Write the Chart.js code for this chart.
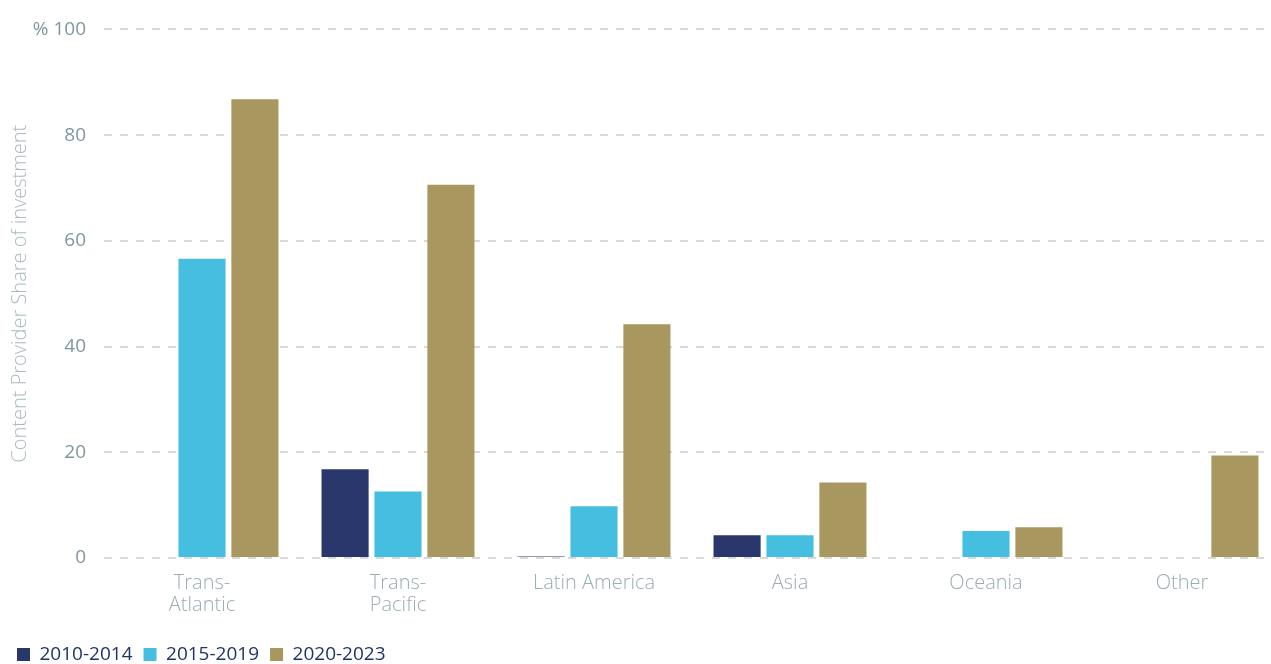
<!DOCTYPE html>
<html>
<head>
<meta charset="utf-8">
<script src="https://cdn.jsdelivr.net/npm/chart.js@4"></script>
<style>
    html, body { margin: 0; padding: 0; background: #fff; overflow: hidden; }
    #wrap { position: relative; width: 1280px; height: 674px; }
</style>
</head>
<body>
<div id="wrap"><canvas id="chart"></canvas></div>
<script>
    const regions = [['Trans-', 'Atlantic'], ['Trans-', 'Pacific'], 'Latin America', 'Asia', 'Oceania', 'Other'];
    const periods = ['2010-2014', '2015-2019', '2020-2023'];
    const share2010 = [null, 16.8, 0.3, 4.3, null, null];
    const share2015 = [56.6, 12.6, 9.8, 4.3, 5.1, null];
    const share2020 = [86.8, 70.6, 44.2, 14.3, 5.8, 19.4];
    const yTicks = [0, 20, 40, 60, 80, 100];

    const colors = ['#29376d', '#46bee0', '#a89860'];

    const ctx = document.getElementById('chart').getContext('2d');
    new Chart(ctx, {
        type: 'bar',
        data: {
            labels: regions,
            datasets: [share2010, share2015, share2020].map((d, i) => ({
                label: periods[i],
                data: d,
                backgroundColor: colors[i],
                borderWidth: 0,
                categoryPercentage: 0.81,
                barPercentage: 0.89
            }))
        },
        options: {
            responsive: true,
            maintainAspectRatio: false,
            animation: false,
            layout: { padding: { left: 6, right: 0, top: 13, bottom: 0 } },
            scales: {
                x: {
                    grid: { display: false },
                    border: { display: false },
                    afterFit: scale => { scale.height += 12; },
                    ticks: {
                        color: '#9aaeb3',
                        font: { family: 'Open Sans', size: 20, weight: 300, lineHeight: 1.1 },
                        padding: 6,
                        maxRotation: 0
                    }
                },
                y: {
                    min: 0,
                    max: 100,
                    afterBuildTicks: axis => { axis.ticks = yTicks.map(v => ({ value: v })); },
                    afterFit: scale => { scale.width = 98; },
                    grid: { color: '#d9d9d9', lineWidth: 2, drawTicks: false },
                    border: { display: false, dash: [8, 8] },
                    ticks: {
                        color: '#7f979d',
                        font: { family: 'Open Sans', size: 19 },
                        padding: 18,
                        callback: v => v === 100 ? '% 100' : v
                    },
                    title: {
                        display: true,
                        text: 'Content Provider Share of investment',
                        color: '#a8bcc0',
                        font: { family: 'Open Sans', size: 20, weight: 300 },
                        padding: { top: 2, bottom: 0 }
                    }
                }
            },
            plugins: {
                legend: {
                    position: 'bottom',
                    align: 'start',
                    labels: {
                        color: '#1f3466',
                        font: { family: 'Open Sans', size: 19 },
                        boxWidth: 13,
                        boxHeight: 13,
                        padding: 11
                    }
                },
                tooltip: { enabled: false }
            }
        }
    });
</script>
</body>
</html>
